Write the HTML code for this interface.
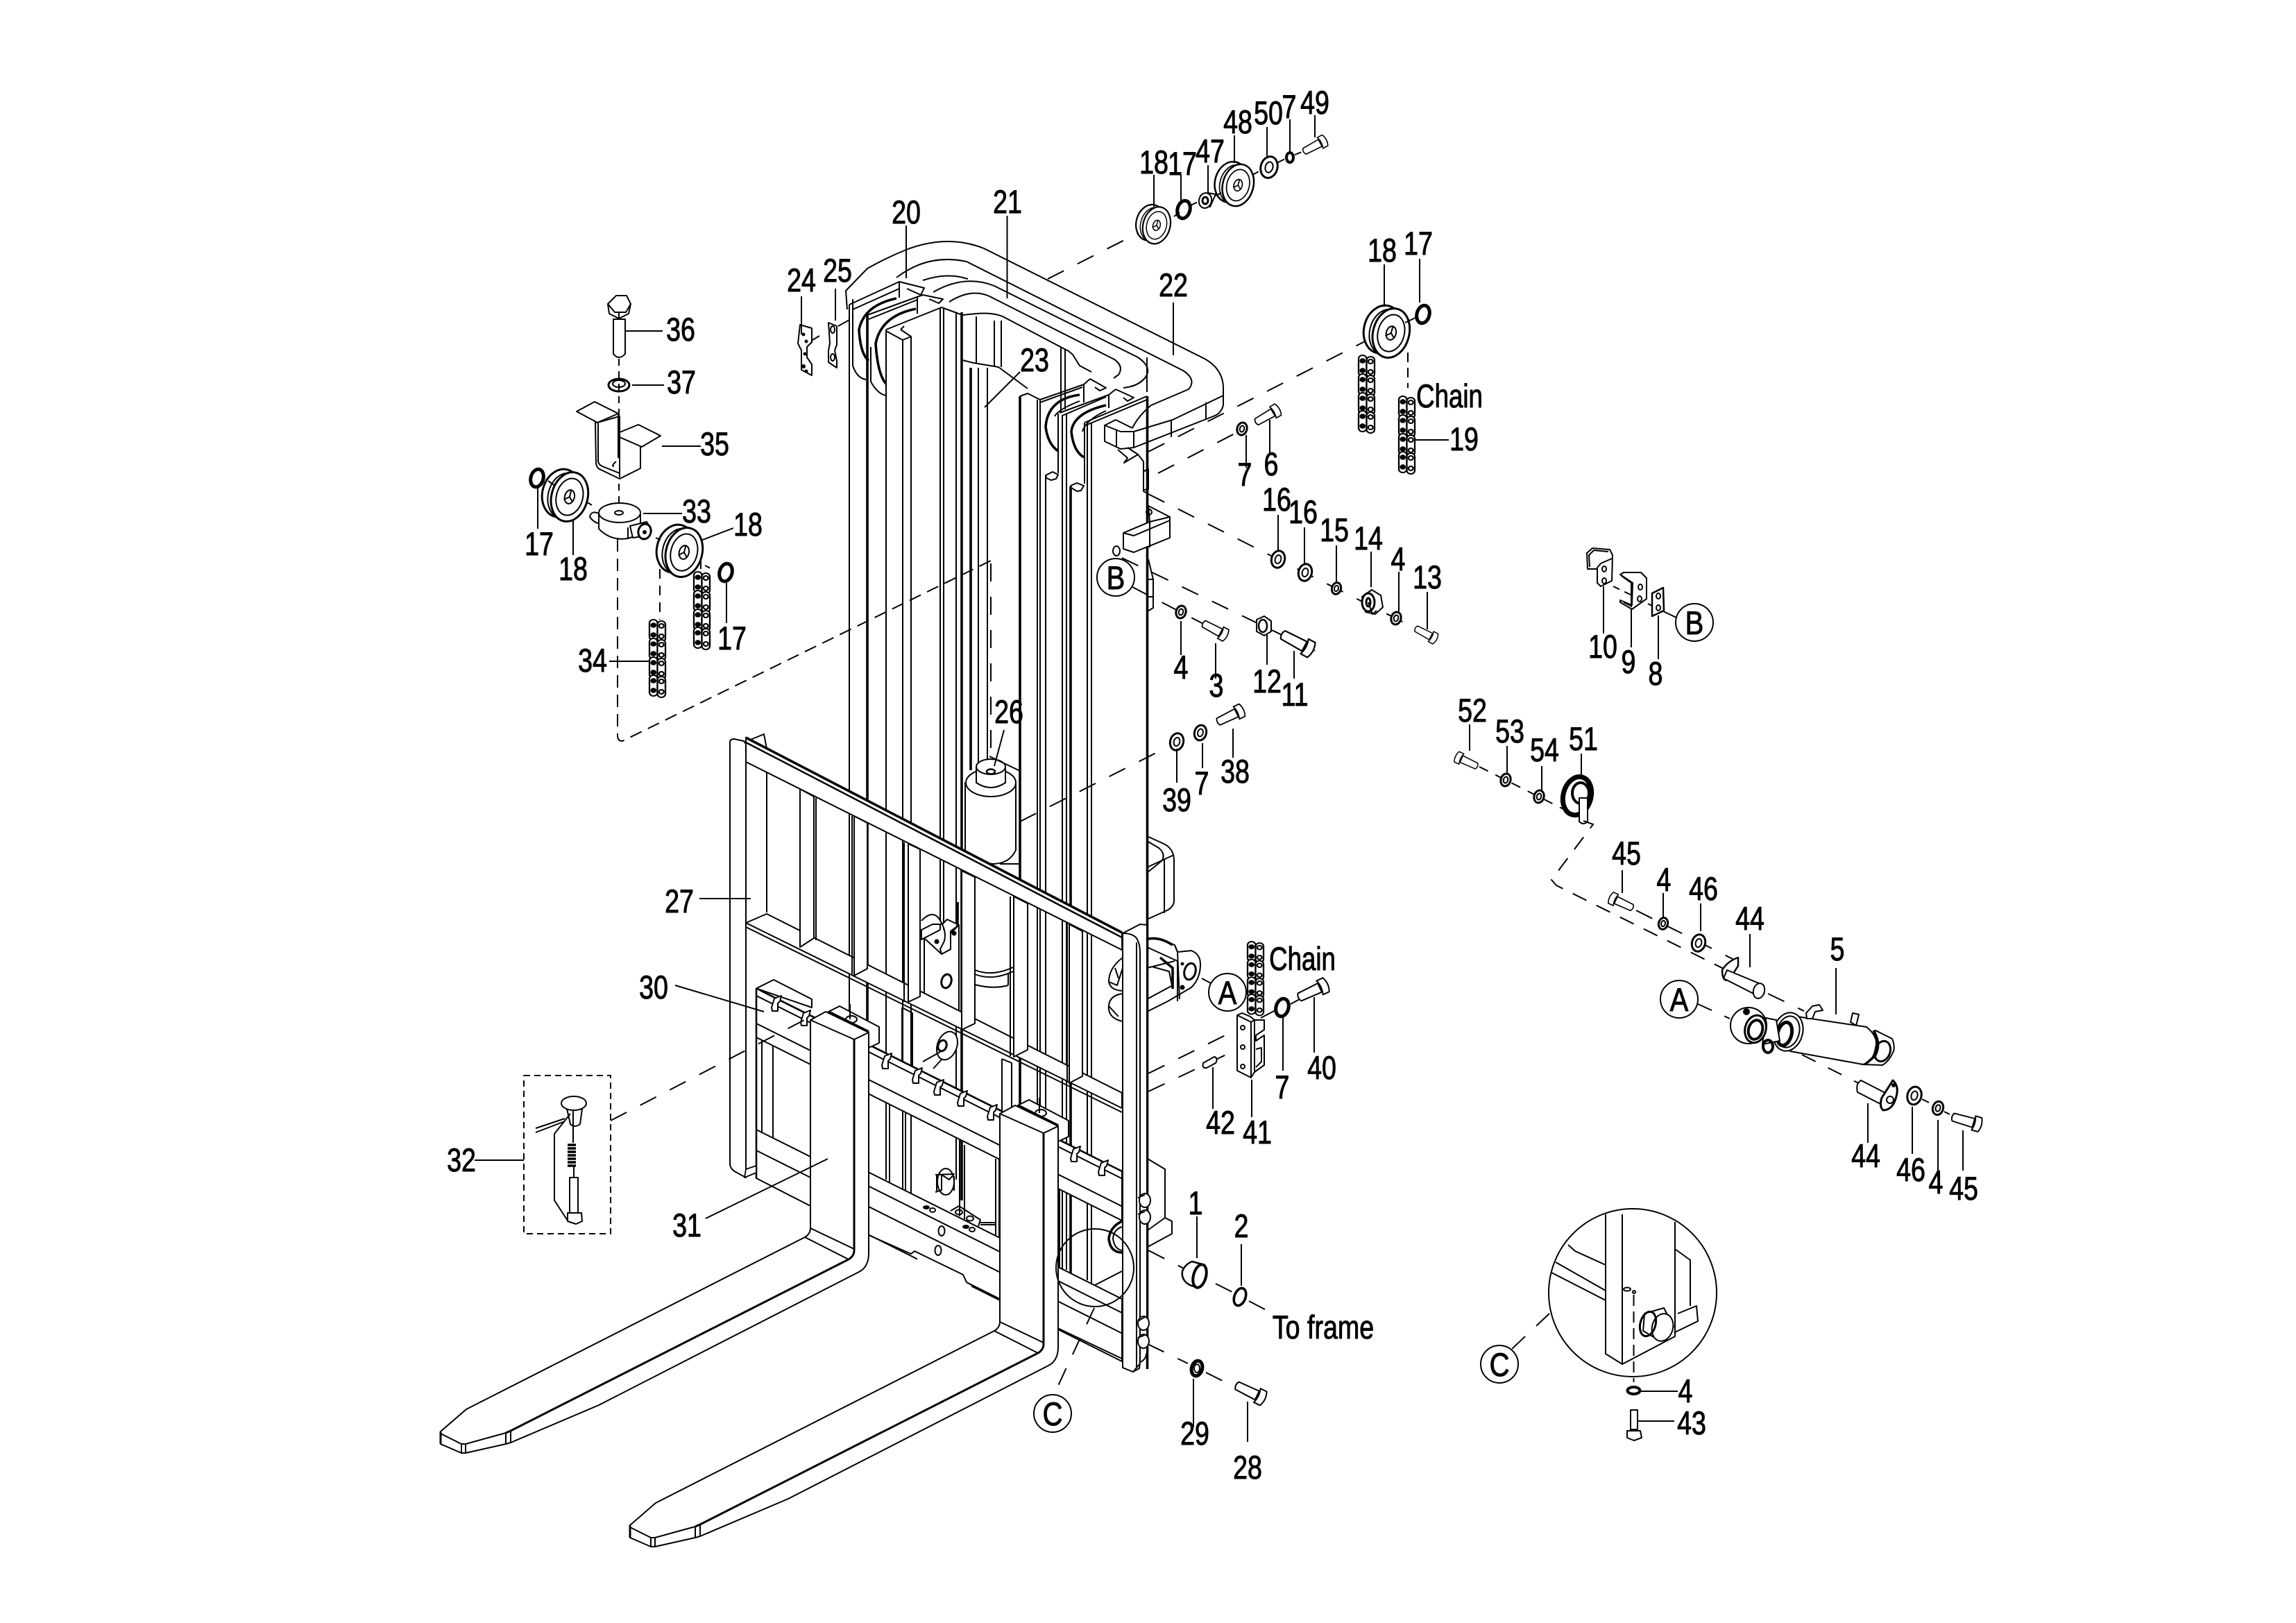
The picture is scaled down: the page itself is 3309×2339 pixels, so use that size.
<!DOCTYPE html>
<html><head><meta charset="utf-8"><style>
html,body{margin:0;padding:0;background:#fff}
svg{display:block}
text{font-family:"Liberation Sans",sans-serif;font-size:47px;fill:#000;stroke:#000;stroke-width:1;text-anchor:middle}
.f{fill:#fff;stroke:#000;stroke-width:2;stroke-linejoin:round}
.n{fill:none;stroke:#000;stroke-width:2;stroke-linejoin:round}
.k{fill:none;stroke:#000;stroke-width:3.6}
.d{fill:none;stroke:#000;stroke-width:2;stroke-dasharray:26 22}
.w{fill:#fff;stroke:none}
.v{vector-effect:non-scaling-stroke}
</style></head><body>
<svg xmlns="http://www.w3.org/2000/svg" width="3309" height="2339" viewBox="0 0 3309 2339">
<defs>
<g id="b"><path class="f" d="M0,-6 L32,-7 L32,7 L0,6 Q-4,0 0,-6Z"/><path class="f" d="M32,-11 L42,-11 Q47,0 42,11 L32,11 Q36,0 32,-11Z"/></g>
<g id="w"><ellipse class="f v" rx="10" ry="13" transform="rotate(15)" style="stroke-width:3"/><ellipse class="n v" rx="4.5" ry="6.5" transform="rotate(15)"/></g>
<g id="r"><ellipse class="n v" rx="9" ry="13" transform="rotate(15)" style="stroke-width:5"/></g>
<g id="p" transform="rotate(15)"><ellipse class="f" cx="-9" cy="-2" rx="27" ry="35" style="stroke-width:3"/><ellipse class="f" cx="-3" cy="0" rx="24" ry="33"/><ellipse class="f" cx="4" cy="0" rx="26" ry="36" style="stroke-width:3"/><ellipse class="n" cx="4" cy="0" rx="19" ry="27"/><ellipse class="n" cx="4" cy="0" rx="7" ry="10"/><path class="n" d="M4,-10V0L-3,6M4,0L10,6"/></g>
<g id="c"><g id="c1"><rect class="f" x="0" y="0" width="10" height="30" rx="5"/><rect class="f" x="10" y="2" width="10" height="30" rx="5"/><circle cx="5" cy="8" r="3.8"/><circle cx="5" cy="22" r="3.8"/><circle cx="15" cy="9" r="3" class="n"/><circle cx="15" cy="24" r="3" class="n"/></g><use href="#c1" y="27"/><use href="#c1" y="54"/><use href="#c1" y="80"/></g>
<g id="hk"><path class="f" d="M-7,5 L-3,-8 L7,-12 L5,-4 L2,-1 L2,10 L-6,10Z"/></g>
<g id="fork">
<path class="f" d="M1194,1458 L1210,1450 L1267,1480 L1267,1503 L1252,1510 L1194,1470Z"/><path class="k" d="M1194,1458 L1252,1487"/><ellipse class="n" cx="1227" cy="1469" rx="8" ry="5"/><path class="n" d="M1225,1447V1469"/>
<path class="f" d="M1168,1470 L1190,1458 L1252,1488 L1252,1806 Q1252,1826 1238,1833 L863,2025 L736,2079 L729,2081 L671,2094 L665,2094 L635,2081 L635,2063 L672,2031 L1160,1783 Q1168,1778 1168,1770Z"/>
<path class="n" d="M1168,1470 L1231,1498 L1252,1488 M1168,1770 L1231,1800 M1160,1783 L1223,1815 M729,2065 L671,2081 L665,2081 L635,2066 M729,2065V2081 M736,2062V2079 M665,2081V2094 M671,2081V2094"/>
<path class="k" style="stroke-width:3" d="M1231,1498 L1231,1802 Q1231,1810 1223,1815 L736,2062 L729,2065 M635,2063V2081"/>
</g>
</defs>
<rect width="3309" height="2339" fill="#fff"/>

<!-- dashed far lines under -->
<path class="d" d="M1510,402 L1646,333"/>
<path class="d" d="M1655,651 L1971,490"/>
<path class="d" d="M1669,682 L1785,622"/>
<path class="d" d="M1655,712 L2041,906"/>
<path class="d" d="M1617,804 L1895,938"/>
<path class="d" d="M1632,846 L1738,901"/>
<path class="d" d="M1470,1184 L1682,1077"/>

<!-- back hook of tie below -->
<path class="f" d="M1653,1205 L1675,1215 Q1692,1222 1692,1240 L1692,1300 Q1690,1308 1682,1312 L1653,1325Z"/>
<path class="n" d="M1653,1212 L1670,1222 Q1680,1230 1675,1240 L1653,1258 M1678,1238V1316 M1653,1250 L1692,1232"/>
<!-- tilt mount -->
<path class="f" d="M1653,1353 L1673,1353 L1693,1362 L1697,1372 L1717,1370 Q1730,1375 1730,1390 Q1730,1410 1717,1423 L1683,1443 L1653,1458Z"/>
<path class="n" d="M1653,1365 L1697,1385 L1697,1443 M1653,1395 L1693,1385 M1653,1440 L1690,1420 M1660,1393 L1685,1400 L1690,1425 M1693,1362 L1697,1372 L1700,1440"/>
<path class="k" d="M1655,1353 Q1672,1350 1690,1362 M1672,1380 L1690,1395V1425"/>
<ellipse class="f" cx="1715" cy="1400" rx="8" ry="12" transform="rotate(15 1715 1400)" style="stroke-width:3"/>
<circle cx="1704" cy="1389" r="2.5"/><circle cx="1704" cy="1423" r="3.5"/>
<!-- back block low right -->
<path class="f" d="M1654,1670 L1679,1685 L1679,1755 L1689,1760 L1689,1778 L1654,1797 L1654,1773 L1679,1755"/>

<!-- tie 22 -->
<path class="n" d="M1221,446 L1219,419 L1250,387 Q1280,370 1311,358 Q1368,338 1418,358 L1736,517 Q1763,532 1763,560 L1763,584 Q1760,595 1751,599 L1634,645 L1615,647 L1592,636 L1592,613 L1608,605 L1632,617"/>
<path class="n" d="M1292,400 Q1338,365 1393,377 L1705,534 Q1725,547 1713,561 L1659,584 Q1640,600 1632,617 M1592,613 L1615,622 L1634,622 L1690,605 L1763,570 M1688,605V630 M1738,580V605 M1634,622V645 M1609,620V645"/>
<path class="n" d="M1653,515 V565 M1619,559 Q1645,556 1653,540"/>
<!-- tie 21 -->
<path class="n" d="M1345,421 Q1390,395 1433,412 L1640,515 Q1662,530 1650,545 Q1640,555 1629,557"/>
<path class="n" d="M1368,435 Q1400,415 1426,427 L1606,518 Q1620,528 1612,540 L1605,545"/>
<path class="n" d="M1330,404 Q1365,392 1395,402"/>
<!-- plate 20 -->
<path class="n" d="M1387,454 L1407,452 Q1430,450 1445,456 L1540,506 L1546,511 L1556,527 L1573,536"/>
<path class="n" d="M1387,519 L1403,523 L1439,529 L1481,560"/>
<path class="n" d="M1407,456V524 M1433,462V527 M1443,462V529 M1529,500V594 M1535,503V590"/>

<!-- sprockets left -->
<path class="k" d="M1292,430 Q1245,440 1238,475 Q1240,510 1252,520"/>
<path class="k" d="M1320,445 Q1270,455 1262,495 Q1265,540 1277,553"/>
<path class="n" d="M1229,431 V527 Q1235,545 1248,547 M1255,500 V550 Q1265,568 1277,570"/>
<!-- sprockets right -->
<path class="k" d="M1556,569 Q1510,575 1507,615 Q1510,640 1525,650"/>
<path class="k" d="M1594,584 Q1547,595 1544,622 Q1547,650 1562,659"/>
<path class="n" d="M1520,600 Q1525,590 1556,578 M1560,622 Q1565,605 1594,592"/>

<!-- mast verticals -->
<path class="n" d="M1224,439V1675 M1277,475V1700 M1301,490V1714 M1313,485V1720 M1355,443V1340 M1360,443V1340 M1378,450V1700 M1410,530V1110 M1423,530V1110 M1495,576V1800 M1499,576V1800 M1507,685V1800 M1525,596V682 M1531,598V1830 M1537,596V1830 M1563,609V697 M1567,609V1845 M1573,609V1850"/>
<path class="k" d="M1250,454V1690 M1386,450V1730 M1399,530V1110 M1470,571V1800 M1543,701V1836 M1653.5,571V1973"/>
<path class="n" d="M1305,1590V1720 M1282,1590V1713 M1383,1643V1753 M1390,1650V1757 M1435,1670V1788 M1440,1670V1790 M1527,1713V1826"/>
<path class="f" d="M1508,689 L1507,685 L1517,680 L1525,684 L1522,690 L1515,692Z M1544,703 L1543,700 L1552,696 L1562,700 L1558,707 L1552,708Z"/>
<!-- mast heads left -->
<path class="n" d="M1224,439 L1296,406 L1332,415 L1327,425 L1307,416 M1296,406V429 M1229,446 L1296,416"/>
<path class="n" d="M1250,454 L1330,425 L1359,431 L1353,437 L1339,431 M1322,429V452 M1252,460 L1322,432"/>
<path class="n" d="M1277,475 L1357,443 L1387,454 M1298,475 L1313,485 L1301,490 L1277,477 M1298,475 L1303,470"/>
<!-- mast heads right -->
<path class="n" d="M1470,571 L1481,567 L1499,576 L1562,554 M1571,546 L1594,559 L1585,563 L1578,558 M1562,554V580 M1562,554 L1571,546 M1499,580 L1560,558"/>
<path class="n" d="M1527,595 L1598,569 M1531,599 L1594,572 M1598,569V588 M1608,561 L1634,573 L1625,578 L1619,573 M1598,569 L1608,561"/>
<path class="n" d="M1563,609 L1653,571 M1567,612 L1653,576"/>
<!-- below tie details -->
<path class="n" d="M1611,648 L1625,660 L1620,667 L1640,655 L1625,645 M1640,655 L1648,665 V708 L1655,712 M1648,680 L1655,675 M1655,675V705 L1649,706"/>
<path class="f" d="M1655,729 L1686,745 L1686,775 L1634,796 L1619,791 L1619,768 L1657,752Z"/>
<path class="n" d="M1686,745 L1657,752 L1657,789 M1619,768 L1634,772 L1686,750"/>
<circle cx="1656" cy="738" r="4" class="n"/>
<ellipse class="n" cx="1609" cy="794" rx="5" ry="7"/>
<path class="n" d="M1655,806 L1662,835 V876 L1652,882 M1655,835 H1662 M1655,860 H1662"/>

<!-- frame 27 behind pieces -->
<path class="f" d="M1072,1070 L1101,1058 L1105,1079Z"/>
<path class="n" d="M1105,1079V1315"/>
<!-- dashed long -->
<path class="d" d="M1428,812 V1100"/>

<!-- cylinder -->
<path class="f" d="M1391,1128 L1391,1225 Q1400,1240 1430,1245 Q1455,1245 1464,1225 L1464,1128Z"/>
<ellipse class="f" cx="1428" cy="1128" rx="36" ry="20"/>
<path class="f" d="M1407,1105 V1128 Q1428,1142 1449,1128 V1105Z"/>
<ellipse class="f" cx="1428" cy="1105" rx="21" ry="11"/>
<ellipse class="n" cx="1428" cy="1112" rx="6" ry="3.5" style="stroke-width:2.5"/>
<path class="n" d="M1426,1090 L1470,1111 M1441,1245 H1470"/>
<rect class="w" x="1405" y="1246" width="55" height="360"/>
<path class="n" d="M1405,1398 Q1430,1408 1460,1394 M1405,1404 Q1430,1414 1460,1400 M1405,1419 Q1432,1426 1453,1420 M1453,1402V1420"/>
<!-- sprocket bracket -->
<path class="f" d="M1332,1352 L1357,1375 L1370,1368 L1370,1345 L1382,1333 L1382,1459 L1332,1440Z"/>
<ellipse class="f" cx="1364" cy="1414" rx="7" ry="10" transform="rotate(15 1364 1414)" style="stroke-width:3"/>
<path class="f" d="M1328,1327 Q1342,1312 1352,1322 Q1365,1340 1361,1356 L1355,1368 L1357,1375 L1370,1368 L1370,1342 L1382,1333 L1365,1325 L1358,1332 L1344,1332 L1328,1340V1354 L1355,1340"/>
<circle cx="1350" cy="1357" r="3.5"/><circle cx="1375" cy="1345" r="3.5"/>
<path class="k" d="M1380,1300 V1335"/>
<!-- lower eye -->
<ellipse class="f" cx="1365" cy="1507" rx="14" ry="21" transform="rotate(20 1365 1507)"/>
<ellipse class="n" cx="1358" cy="1507" rx="6" ry="8" transform="rotate(20 1358 1507)" style="stroke-width:3"/>
<path class="n" d="M1330,1530 L1355,1516 M1345,1540 L1358,1526"/>

<!-- frame right blobs -->
<path class="f" d="M1618,1380 Q1598,1395 1598,1415 Q1600,1427 1618,1428Z"/>
<path class="f" d="M1618,1432 Q1596,1435 1598,1455 Q1600,1468 1618,1472Z"/>
<path class="n" d="M1598,1415 L1610,1420 L1618,1395 M1598,1450 L1612,1465 M1607,1395 L1612,1410"/>

<!-- frame: top beam -->
<path class="f" d="M1075,1063 L1617,1344 L1617,1369 L1075,1098Z"/>
<path class="k" d="M1075,1063 L1617,1344"/>
<path class="k" style="stroke-width:2.5" d="M1075,1070 L1617,1351"/>
<!-- frame: lower bar -->
<path class="f" d="M1075,1330 L1105,1317 L1617,1575 L1617,1597Z"/>
<path class="n" d="M1075,1336 L1617,1603"/>
<!-- stiffeners -->
<path class="f" d="M1153,1137 L1173,1148 L1173,1352 L1153,1365Z"/>
<path class="f" d="M1231,1176 L1250,1186 L1250,1396 L1231,1406Z"/>
<path class="f" d="M1309,1216 L1326,1224 L1326,1436 L1309,1444Z"/>
<path class="f" d="M1386,1255 L1405,1264 L1405,1475 L1386,1484Z"/>
<path class="f" d="M1461,1292 L1481,1302 L1481,1513 L1461,1523Z"/>
<path class="f" d="M1541,1332 L1560,1342 L1560,1551 L1541,1561Z"/>
<path class="n" d="M1176,1150 L1176,1355 M1228,1176V1404 M1303,1214V1444 M1456,1292V1522 M1538,1330V1560"/>
<path class="n" d="M1300,1452 L1315,1460 V1545 M1300,1452V1540 M1444,1526 L1458,1532 V1612 M1444,1526V1610"/>

<!-- lower carriage rails -->
<path class="f" d="M1090,1424.5 L1617,1688 L1617,1759 L1090,1495.5Z"/>
<path class="n" d="M1090,1435 L1617,1698.5 M1090,1475 L1617,1738.5"/>
<path class="k" style="stroke-width:2.6" d="M1096,1427.5 L1617,1688"/>
<path class="f" d="M1090,1424.5 L1115,1412 L1170,1440 L1170,1452Z"/>
<path class="f" d="M1252,1689.5 L1617,1872 L1617,1962 L1252,1779.5Z"/>
<path class="n" d="M1253,1710 L1617,1892 M1250,1738 L1617,1921.5"/>
<path class="f" d="M1090,1495 L1168,1534 L1168,1738 L1090,1698Z"/>
<path class="n" d="M1090,1628 L1168,1667 M1090,1658 L1168,1697 M1098,1499 V1632 M1114,1507 V1640"/>
<path class="k" d="M1090,1425V1698" style="stroke-width:2.6"/>
<!-- bottom notch white -->
<path class="w" d="M1322,1806 L1388,1839 L1393,1849 L1400,1853 L1400,1860 L1322,1820Z"/>
<path class="n" d="M1252,1780 L1313,1807 L1318,1803 L1324,1806 L1388,1837 L1393,1848 L1441,1872 M1520,1912 L1617,1958"/>
<!-- holes -->
<ellipse cx="1335" cy="1740" rx="5" ry="3"/><ellipse class="n" cx="1344" cy="1744" rx="4" ry="3"/>
<ellipse cx="1392" cy="1768" rx="5" ry="3"/><ellipse class="n" cx="1401" cy="1772" rx="4" ry="3"/>
<ellipse class="n" cx="1357" cy="1774" rx="4.5" ry="7"/><ellipse class="n" cx="1352" cy="1802" rx="4.5" ry="7"/>
<!-- lower central details -->
<ellipse class="n" cx="1363" cy="1703" rx="12" ry="19"/>
<path class="n" d="M1348,1693 L1375,1692 L1368,1700 L1357,1693 V1715 L1348,1718 M1350,1693V1716 M1375,1695V1716"/>
<path class="n" d="M1370,1745 L1382,1738 L1413,1758 L1410,1767 M1413,1762 H1435 M1413,1765 H1435"/>
<ellipse class="n" cx="1382" cy="1747" rx="5" ry="3.5"/><ellipse class="n" cx="1398" cy="1756" rx="5" ry="3.5"/>
<!-- forks -->
<use href="#fork"/>
<use href="#fork" x="273" y="135"/>
<!-- hooks -->
<use href="#hk" x="1119" y="1447"/><use href="#hk" x="1161" y="1468"/><use href="#hk" x="1278" y="1530"/><use href="#hk" x="1322" y="1551"/><use href="#hk" x="1353" y="1568"/><use href="#hk" x="1387" y="1584"/><use href="#hk" x="1430" y="1604"/><use href="#hk" x="1550" y="1664"/><use href="#hk" x="1590" y="1684"/>
<!-- right post -->
<path class="f" d="M1618,1345 L1643,1332 L1653,1333 V1947 Q1652,1960 1643,1963 L1642,1972 L1633,1977 L1618,1971Z"/>
<path class="f" d="M1618,1345 Q1632,1345 1638,1352 Q1643,1360 1643,1372 V1965 L1633,1977 L1618,1971Z"/>
<path class="n" d="M1638,1358V1971"/>
<!-- left post -->
<path class="f" d="M1052,1070 Q1052,1065 1058,1065 L1072,1068 L1075,1072 V1697 L1062,1690 Q1052,1685 1052,1677Z"/>
<path class="f" d="M1073,1697 L1090,1690 L1090,1680 L1075,1685Z" style="stroke-width:1.8"/>
<!-- post fittings -->
<ellipse class="f" cx="1650" cy="1730" rx="8" ry="10"/><ellipse class="f" cx="1650" cy="1754" rx="8" ry="10"/><ellipse class="f" cx="1648" cy="1907" rx="8" ry="10"/><ellipse class="f" cx="1648" cy="1933" rx="8" ry="10"/>
<path class="n" d="M1640,1726 L1650,1722 M1640,1750 L1650,1746 M1640,1904 L1650,1898 M1640,1928 L1650,1924"/>
<path class="k" d="M1617,1760 Q1600,1768 1598,1785 Q1600,1805 1617,1805"/><path class="n" d="M1617,1768 Q1605,1772 1604,1785 Q1606,1800 1617,1802"/>
<!-- detail circle -->
<circle class="n" cx="1578" cy="1827" r="56"/>
<path class="n" d="M1578,1852 L1617,1832"/>
<path class="d" d="M1577,1885 L1518,2012"/>

<!-- left assembly -->
<path class="f" d="M884,460 V510 Q892,520 901,510 V460Z"/>
<path class="f" d="M876,438 L888,426 L903,426 L909,438 L906,452 L892,459 L878,452Z"/>
<path class="n" d="M876,438 L886,450 L902,450 L909,438 M892,450V459"/>
<path class="d" style="stroke-dasharray:10 8" d="M892,517V724"/>
<ellipse class="n" cx="892" cy="555" rx="15" ry="9" style="stroke-width:3"/><ellipse class="n" cx="892" cy="553" rx="9" ry="5"/>
<!-- bracket 35 -->
<path class="f" d="M858,609 L859,668 Q860,675 866,677 L893,690 L923,675 V641 L893,630 V600 L861,609Z"/>
<path class="f" d="M831,593 L857,579 L891,596 L861,609Z"/>
<path class="n" d="M862,610 V665 Q863,670 868,672 L893,682 M891,597 V660 M893,625 V688 M885,672 Q880,672 888,665"/>
<path class="f" d="M893,623 L920,612 L952,628 L925,644 L893,630Z"/>
<!-- hub 33 -->
<path class="f" d="M863,740 L873,733 L886,739 V752 L868,755 Q857,755 850,745 Q852,735 863,740Z"/>
<path class="f" d="M863,739 V762 Q880,780 905,776 L923,770 V741 Q900,720 863,739Z"/>
<ellipse class="f" cx="893" cy="739" rx="30" ry="14"/>
<ellipse class="n" cx="892" cy="739" rx="6" ry="3"/>
<path class="n" d="M905,760 V776"/>
<path class="f" d="M908,758 L932,752 Q938,760 933,772 L912,775Z"/><ellipse class="f" cx="929" cy="766" rx="9" ry="11" transform="rotate(15 929 766)" style="stroke-width:3"/><circle cx="929" cy="767" r="3"/>
<path class="n" d="M843,722 L853,728"/>
<use href="#p" x="817" y="715"/>
<use href="#p" x="982" y="795"/>
<path class="n" d="M790,693 L800,700"/>
<use href="#r" x="774" y="689"/>
<use href="#r" x="1046" y="825"/>
<path class="n" d="M945,775 L952,778"/>
<path class="d" style="stroke-dasharray:8 8" d="M1016,815 L1030,822"/>
<use href="#c" transform="translate(1000 824) scale(1.15 1)"/>
<use href="#c" transform="translate(936 893) scale(1.15 1)"/>
<path class="d" style="stroke-dasharray:14 10" d="M951,820V893 M1010,806V826"/>
<path class="d" style="stroke-dasharray:18 10" d="M890,777 V1060 Q890,1068 897,1068 L1428,808"/>

<!-- 24, 25 -->
<path class="f" d="M1153,483 L1170,488 V508 L1163,515 V530 L1170,540 V556 L1155,548 V520 L1150,510Z" transform="translate(0,-15)"/>
<circle cx="1158" cy="482" r="2.5"/><circle cx="1162" cy="492" r="2.5"/><circle cx="1158" cy="528" r="3"/><circle cx="1162" cy="535" r="2.5"/><circle cx="1160" cy="510" r="2.5"/>
<path class="n" d="M1171,490 L1181,484"/>
<path class="f" d="M1194,465 L1206,470 V497 L1203,505 L1206,520 V530 L1194,522 V505 L1196,495Z"/>
<ellipse class="n" cx="1200" cy="475" rx="3" ry="5"/><ellipse class="n" cx="1200" cy="515" rx="3" ry="5"/>
<path class="n" d="M1208,470 L1224,461"/>
<!-- top right small set -->
<use href="#p" transform="translate(1664 324) scale(.75)"/>
<use href="#r" x="1706" y="302"/>
<path class="f" d="M1730,282 L1741,278 L1752,280 L1744,298 L1731,296Z"/><ellipse class="f" cx="1737" cy="289" rx="9" ry="11" transform="rotate(15 1737 289)" style="stroke-width:2"/><ellipse class="n" cx="1737" cy="289" rx="4" ry="5" style="stroke-width:3"/>
<use href="#p" transform="translate(1781 266) scale(.85)"/>
<use href="#w" transform="translate(1829 241) scale(1.2)"/>
<ellipse class="n" cx="1859" cy="227" rx="5" ry="7" style="stroke-width:4"/>
<use href="#b" transform="translate(1880 218) rotate(-28) scale(.8)"/>
<path class="d" style="stroke-dasharray:10 12" d="M1692,312 L1700,306 M1716,296 L1728,290 M1752,282 L1760,278 M1805,252 L1816,246 M1842,234 L1852,229 M1866,223 L1876,219"/>
<!-- right pulley -->
<use href="#p" x="2001" y="479"/>
<use href="#r" x="2051" y="453"/>
<path class="n" d="M2025,465 L2042,457"/>
<path class="d" style="stroke-dasharray:14 8" d="M2029,508 V559"/>
<use href="#c" transform="translate(1958 512) scale(1.15 1)"/>
<use href="#c" transform="translate(2016 571) scale(1.15 1)"/>
<!-- bolt 6 etc -->
<use href="#w" transform="translate(1790 618) scale(.7)"/>
<use href="#b" transform="translate(1811 608) rotate(-30) scale(.85)"/>
<use href="#w" transform="translate(1842 806) scale(.95)"/>
<use href="#w" transform="translate(1881 825) scale(.95)"/>
<use href="#w" transform="translate(1926 848) scale(.65)"/>
<path class="f" d="M1963,860 L1977,850 L1990,858 L1993,875 L1982,885 L1968,882Z"/>
<ellipse class="f" cx="1972" cy="868" rx="9" ry="13" style="stroke-width:3"/><ellipse class="n" cx="1972" cy="868" rx="3" ry="6" style="stroke-width:3"/>
<path class="n" d="M1972,868 L1978,885 L1984,880"/>
<use href="#w" transform="translate(2012 891) scale(.7)"/>
<use href="#b" transform="translate(2041 906) rotate(28) scale(.75)"/>
<use href="#w" transform="translate(1702 882) scale(.7)"/>
<use href="#b" transform="translate(1735 899) rotate(28) scale(.85)"/>
<path class="f" d="M1811,893 L1822,888 L1832,895 L1832,910 L1822,916 L1811,910Z"/><ellipse class="n" cx="1820" cy="902" rx="6" ry="9" style="stroke-width:2.5"/>
<use href="#b" transform="translate(1849 915) rotate(28) scale(1.1)"/>
<use href="#w" transform="translate(1696 1069) scale(.95)"/>
<use href="#w" transform="translate(1730 1056) scale(.85)"/>
<use href="#b" transform="translate(1756 1040) rotate(-26) scale(.9)"/>

<!-- 41 group -->
<path class="d" d="M1655,1547 L1790,1480"/>
<path class="d" d="M1655,1573 L1767,1520"/>
<path class="f" d="M1734,1532 L1750,1523 Q1756,1525 1752,1532 L1739,1539 Q1732,1540 1734,1532Z"/>
<use href="#c" transform="translate(1798 1357) scale(1.15 .95)"/>
<path class="f" d="M1783,1463 L1790,1460 L1802,1465 L1808,1470 L1822,1470 V1484 L1810,1492 V1500 L1822,1492 V1535 L1808,1545 L1803,1553 L1783,1543Z"/>
<path class="n" d="M1783,1463 L1803,1473 V1553 M1803,1473 L1808,1470 V1545 M1810,1512 L1818,1510 V1530 L1810,1538"/>
<circle class="n" cx="1791" cy="1481" r="3"/><circle class="n" cx="1791" cy="1509" r="3"/><circle class="n" cx="1791" cy="1537" r="3"/>
<path class="n" d="M1817,1467 L1840,1455 M1860,1447 L1873,1440"/>
<use href="#r" x="1848" y="1452"/>
<use href="#b" transform="translate(1873 1437) rotate(-25) scale(1)"/>
<path class="n" d="M1732,1410 L1745,1417"/>
<!-- 1 2 etc -->
<path class="d" d="M1655,1802 L1706,1828 M1752,1850 L1776,1862 M1800,1875 L1838,1895"/>
<path class="f" d="M1704,1832 Q1708,1822 1718,1818 L1736,1823 L1726,1856 L1715,1852 Q1702,1845 1704,1832Z" style="stroke-width:2.5"/>
<ellipse class="f" cx="1729" cy="1839" rx="9" ry="17" transform="rotate(15 1729 1839)" style="stroke-width:4"/>
<ellipse class="k" cx="1787" cy="1869" rx="8" ry="13" transform="rotate(20 1787 1869)"/>
<path class="d" d="M1654,1937 L1712,1965 M1738,1978 L1780,1999"/>
<use href="#r" transform="translate(1725 1972) scale(.85)"/>
<ellipse class="n" cx="1725" cy="1972" rx="4" ry="6"/>
<use href="#b" transform="translate(1783 1997) rotate(26) scale(1)"/>

<!-- 32 box -->
<rect class="n" style="stroke-dasharray:9 6" x="755" y="1550" width="125" height="228"/>
<path class="d" d="M880,1615 L1163,1468"/>
<path class="f" d="M817,1598 L822,1620 Q828,1626 836,1620 L839,1598Z"/>
<ellipse class="f" cx="827" cy="1590" rx="18" ry="10"/>
<path class="n" d="M772,1632 L814,1616 M772,1626 L814,1612 M826,1600V1647 M827,1680V1697"/>
<path class="k" d="M818,1650 H830 M818,1655 H830 M818,1660 H830 M818,1665 H830 M818,1670 H830 M818,1675 H830 M818,1680 H830"/>
<path class="f" d="M821,1697 H833 V1748 H821Z"/>
<path class="f" d="M818,1748 H838 L839,1760 L830,1764 L818,1760Z"/>
<path class="n" d="M822,1605 L799,1634 V1730 L818,1759"/>
<!-- 51 group -->
<use href="#b" transform="translate(2128 1104) rotate(205) scale(.75)"/>
<path class="d" style="stroke-dasharray:14 12" d="M2132,1105 L2265,1172"/>
<use href="#w" transform="translate(2170 1124) scale(.7)"/>
<use href="#w" transform="translate(2218 1148) scale(.7)"/>
<ellipse class="f" cx="2273" cy="1147" rx="20" ry="28" transform="rotate(15 2273 1147)" style="stroke-width:7"/><ellipse class="f" cx="2278" cy="1143" rx="12" ry="15" style="stroke-width:4"/>
<path class="f" d="M2276,1150 H2288 V1184 Q2282,1190 2276,1184Z"/>
<path class="d" style="stroke-dasharray:22 16" d="M2282,1183 L2296,1188 L2236,1268 L2243,1276 L2486,1397"/>
<use href="#b" transform="translate(2352 1308) rotate(205) scale(.8)"/>
<path class="d" d="M2358,1312 L2503,1385"/>
<use href="#w" transform="translate(2397 1331) scale(.65)"/>
<use href="#w" transform="translate(2448 1359) scale(.95)"/>
<!-- pin 44 -->
<path class="f" d="M2482,1398 Q2490,1385 2505,1380 L2505,1392 L2492,1412 Q2482,1416 2482,1398Z" style="stroke-width:2.5"/>
<path class="f" d="M2489,1398 L2542,1420 L2535,1436 L2484,1410Z"/>
<ellipse class="f" cx="2535" cy="1428" rx="8" ry="11" transform="rotate(15 2535 1428)"/>
<path class="d" d="M2548,1432 L2600,1457"/>
<!-- cylinder 5 -->
<path class="f" d="M2703,1485 L2727,1497 Q2732,1510 2728,1517 Q2722,1530 2713,1535 L2683,1534Z"/>
<ellipse class="f" cx="2713" cy="1515" rx="11" ry="15" transform="rotate(20 2713 1515)" style="stroke-width:3"/>
<path class="f" d="M2590,1465 L2690,1480 Q2708,1495 2703,1510 Q2700,1530 2685,1534 L2580,1515Z"/>
<path class="k" d="M2700,1485 Q2712,1505 2702,1522 L2688,1534"/>
<path class="f" d="M2603,1460 L2612,1450 L2622,1448 L2627,1456 L2616,1458 L2612,1468 L2604,1468Z"/>
<path class="f" d="M2667,1473 L2670,1460 L2679,1462 L2675,1478Z"/>
<path class="d" style="stroke-dasharray:22 20" d="M2447,1447 L2493,1468 M2597,1520 L2740,1592"/>
<ellipse class="f" cx="2577" cy="1487" rx="21" ry="28" transform="rotate(15 2577 1487)"/><ellipse class="n" cx="2577" cy="1487" rx="16" ry="23" transform="rotate(15 2577 1487)"/>
<ellipse class="n" cx="2572" cy="1490" rx="10" ry="17" transform="rotate(15 2572 1490)" style="stroke-width:5"/>
<path class="f" d="M2545,1467 L2560,1470 L2565,1500 L2540,1505Z"/>
<circle class="f" cx="2520" cy="1478" r="26"/>
<ellipse class="f" cx="2530" cy="1483" rx="15" ry="20" transform="rotate(15 2530 1483)" style="stroke-width:3"/><ellipse class="n" cx="2530" cy="1484" rx="10" ry="14" transform="rotate(15 2530 1484)" style="stroke-width:4"/>
<circle cx="2517" cy="1458" r="5"/>
<ellipse class="n" cx="2548" cy="1508" rx="7" ry="9" style="stroke-width:4"/>
<!-- pin 44b -->
<path class="f" d="M2682,1557 L2717,1575 L2712,1592 L2677,1574 Q2674,1562 2682,1557Z"/>
<path class="f" d="M2728,1557 Q2737,1565 2733,1580 Q2728,1600 2714,1600 Q2708,1595 2712,1582Z" style="stroke-width:3"/>
<circle class="n" cx="2724" cy="1585" r="5"/><circle cx="2729" cy="1564" r="3"/>
<use href="#w" transform="translate(2759 1579) scale(1)"/>
<use href="#w" transform="translate(2793 1597) scale(.75)"/>
<use href="#b" transform="translate(2815 1610) rotate(16) scale(.95)"/>
<path class="n" d="M2770,1584 L2780,1589 M2802,1602 L2810,1606"/>
<!-- B parts -->
<path class="f" d="M2302,820 L2288,820 L2287,797 L2295,790 L2320,792 L2324,800 L2323,837 L2307,845 L2302,840 L2302,818 L2307,812 L2323,805"/>
<path class="n" d="M2291,817 L2290,800 L2297,793 L2318,795"/>
<ellipse class="n" cx="2312" cy="820" rx="3" ry="4"/><ellipse class="n" cx="2312" cy="837" rx="3" ry="4"/>
<path class="f" d="M2335,828 L2340,825 L2365,825 L2373,833 V863 L2352,878 L2335,868 V865 L2352,872 L2353,840Z"/>
<path class="n" d="M2337,830 L2351,840 V875 M2340,868 L2350,873"/>
<ellipse class="n" cx="2364" cy="846" rx="3" ry="4"/><ellipse class="n" cx="2363" cy="863" rx="3" ry="4"/>
<path class="f" d="M2381,855 L2397,847 L2398,880 L2381,888Z" style="stroke-width:2.5"/>
<ellipse class="n" cx="2390" cy="859" rx="3" ry="4"/><ellipse class="n" cx="2390" cy="876" rx="3" ry="4"/>
<path class="d" style="stroke-dasharray:10 8" d="M2325,845 L2352,858 M2375,870 L2381,873"/>
<path class="n" d="M2395,880 L2416,890"/>
<!-- C detail -->
<circle class="n" cx="2353" cy="1863" r="121"/>
<path class="n" d="M2314,1750V1951 L2338,1966 V1750 M2414,1761 V1926 L2338,1966"/>
<path class="n" d="M2242,1819 L2314,1860 M2236,1834 L2314,1874 M2260,1794 L2270,1803 L2314,1823 M2414,1800 L2436,1816 V1882 M2418,1893 L2445,1882 L2447,1904 L2414,1920"/>
<path class="f" d="M2370,1893 L2398,1885 L2412,1912 L2392,1932 L2368,1918Z"/>
<ellipse class="f" cx="2396" cy="1913" rx="15" ry="20" transform="rotate(15 2396 1913)" />
<ellipse class="n" cx="2375" cy="1908" rx="11" ry="18" transform="rotate(15 2375 1908)" style="stroke-width:3"/>
<ellipse class="n" cx="2345" cy="1858" rx="5" ry="2.5"/><ellipse class="n" cx="2355" cy="1862" rx="2" ry="2"/>
<path class="d" style="stroke-dasharray:16 8" d="M2354.5,1866V1992"/>
<ellipse class="n" cx="2354.5" cy="2004" rx="9" ry="5" style="stroke-width:4"/>
<path class="f" d="M2350,2032 H2360 V2060 H2350Z"/><path class="f" d="M2345,2062 L2364,2062 L2366,2072 L2355,2076 L2345,2072Z"/>
<path class="d" d="M2233,1893 L2179,1944"/>

<!-- leaders -->
<path class="n" d="M902,477H955 M911,555H957 M954,643H1010 M775,703V762 M826,750V800 M927,740H983 M1010,779L1057,761 M1047,840V898 M878,953H936
M1155,427V482 M1204,416V462 M1306,325V401 M1451.5,311V430 M1691,436V512 M1470,536L1419,587
M1663,252V298 M1702,252V292 M1741,238V278 M1779,195V235 M1826,183V225 M1859,172V218 M1895,166V198
M1995,381V442 M2046,373V436 M2039,634H2088 M1830,605V654 M1796,627V674
M1842,742V795 M1880,760V812 M1926,786V840 M1976,795V846 M2016,824V881 M2057,853V907
M1702,895V944 M1752,927V978 M1826,915V958 M1865,938V978
M1696,1079V1128 M1733,1071V1107 M1777,1050V1092 M1447,1052L1433,1104
M1008,1295H1082 M973,1420L1101,1458 M1017,1756L1193,1670 M684,1672H755
M1725,1753V1813 M1789,1793V1853 M1720,1987V2057 M1798,2020V2078
M1748,1538V1598 M1804,1556V1610 M1849,1462V1543 M1894,1437V1517
M2311,845V913 M2351,878V933 M2390,887V950
M2118,1044V1082 M2172,1075V1115 M2222,1104V1142 M2279,1086V1122
M2338,1254V1287 M2397,1287V1324 M2451,1302V1342 M2522,1346V1394 M2646,1395V1462
M2692,1590V1647 M2756,1595V1663 M2793,1614V1698 M2829,1629V1687
M2365,2005H2418 M2361,2048H2413"/>

<!-- circles -->
<circle class="f" cx="1608" cy="832" r="27"/><circle class="f" cx="1769" cy="1430" r="27"/><circle class="f" cx="1517" cy="2037" r="27"/>
<circle class="f" cx="2442" cy="897" r="27"/><circle class="f" cx="2420" cy="1440" r="27"/><circle class="f" cx="2161" cy="1966" r="27"/>
<text transform="translate(1608 849) scale(.85 1)">B</text><text transform="translate(1769 1447) scale(.85 1)">A</text><text transform="translate(1517 2054) scale(.85 1)">C</text>
<text transform="translate(2442 914) scale(.85 1)">B</text><text transform="translate(2420 1457) scale(.85 1)">A</text><text transform="translate(2161 1983) scale(.85 1)">C</text>

<!-- labels -->
<text transform="translate(981 491) scale(.8 1)">36</text>
<text transform="translate(982 567) scale(.8 1)">37</text>
<text transform="translate(1030 656) scale(.8 1)">35</text>
<text transform="translate(777 800) scale(.8 1)">17</text>
<text transform="translate(826 836) scale(.8 1)">18</text>
<text transform="translate(1004 753) scale(.8 1)">33</text>
<text transform="translate(1078 772) scale(.8 1)">18</text>
<text transform="translate(1055 936) scale(.8 1)">17</text>
<text transform="translate(854 968) scale(.8 1)">34</text>
<text transform="translate(1155 420) scale(.8 1)">24</text>
<text transform="translate(1207 406) scale(.8 1)">25</text>
<text transform="translate(1306 322) scale(.8 1)">20</text>
<text transform="translate(1452 307) scale(.8 1)">21</text>
<text transform="translate(1691 427) scale(.8 1)">22</text>
<text transform="translate(1491 535) scale(.8 1)">23</text>
<text transform="translate(1663 250) scale(.8 1)">18</text>
<text transform="translate(1704 252) scale(.8 1)">17</text>
<text transform="translate(1744 234) scale(.8 1)">47</text>
<text transform="translate(1784 192) scale(.8 1)">48</text>
<text transform="translate(1828 179) scale(.8 1)">50</text>
<text transform="translate(1858 170) scale(.8 1)">7</text>
<text transform="translate(1895 164) scale(.8 1)">49</text>
<text transform="translate(1992 377) scale(.8 1)">18</text>
<text transform="translate(2044 367) scale(.8 1)">17</text>
<text transform="translate(2089 587) scale(.78 1)">Chain</text>
<text transform="translate(2110 649) scale(.8 1)">19</text>
<text transform="translate(1832 685) scale(.8 1)">6</text>
<text transform="translate(1794 700) scale(.8 1)">7</text>
<text transform="translate(1840 736) scale(.8 1)">16</text>
<text transform="translate(1878 754) scale(.8 1)">16</text>
<text transform="translate(1923 780) scale(.8 1)">15</text>
<text transform="translate(1972 792) scale(.8 1)">14</text>
<text transform="translate(2015 822) scale(.8 1)">4</text>
<text transform="translate(2057 848) scale(.8 1)">13</text>
<text transform="translate(1702 978) scale(.8 1)">4</text>
<text transform="translate(1753 1004) scale(.8 1)">3</text>
<text transform="translate(1826 998) scale(.8 1)">12</text>
<text transform="translate(1866 1017) scale(.8 1)">11</text>
<text transform="translate(1696 1169) scale(.8 1)">39</text>
<text transform="translate(1732 1145) scale(.8 1)">7</text>
<text transform="translate(1780 1128) scale(.8 1)">38</text>
<text transform="translate(1454 1042) scale(.8 1)">26</text>
<text transform="translate(979 1315) scale(.8 1)">27</text>
<text transform="translate(942 1439) scale(.8 1)">30</text>
<text transform="translate(990 1782) scale(.8 1)">31</text>
<text transform="translate(665 1688) scale(.8 1)">32</text>
<text transform="translate(1723 1750) scale(.8 1)">1</text>
<text transform="translate(1789 1783) scale(.8 1)">2</text>
<text transform="translate(1907 1929) scale(.8 1)">To frame</text>
<text transform="translate(1722 2082) scale(.8 1)">29</text>
<text transform="translate(1798 2131) scale(.8 1)">28</text>
<text transform="translate(1759 1634) scale(.8 1)">42</text>
<text transform="translate(1812 1648) scale(.8 1)">41</text>
<text transform="translate(1848 1583) scale(.8 1)">7</text>
<text transform="translate(1905 1555) scale(.8 1)">40</text>
<text transform="translate(1877 1398) scale(.78 1)">Chain</text>
<text transform="translate(2310 948) scale(.8 1)">10</text>
<text transform="translate(2347 970) scale(.8 1)">9</text>
<text transform="translate(2386 987) scale(.8 1)">8</text>
<text transform="translate(2122 1040) scale(.8 1)">52</text>
<text transform="translate(2176 1070) scale(.8 1)">53</text>
<text transform="translate(2226 1097) scale(.8 1)">54</text>
<text transform="translate(2282 1081) scale(.8 1)">51</text>
<text transform="translate(2344 1246) scale(.8 1)">45</text>
<text transform="translate(2398 1284) scale(.8 1)">4</text>
<text transform="translate(2455 1297) scale(.8 1)">46</text>
<text transform="translate(2522 1340) scale(.8 1)">44</text>
<text transform="translate(2648 1384) scale(.8 1)">5</text>
<text transform="translate(2689 1682) scale(.8 1)">44</text>
<text transform="translate(2754 1702) scale(.8 1)">46</text>
<text transform="translate(2790 1720) scale(.8 1)">4</text>
<text transform="translate(2830 1729) scale(.8 1)">45</text>
<text transform="translate(2429 2021) scale(.8 1)">4</text>
<text transform="translate(2438 2067) scale(.8 1)">43</text>
</svg>
</body></html>
